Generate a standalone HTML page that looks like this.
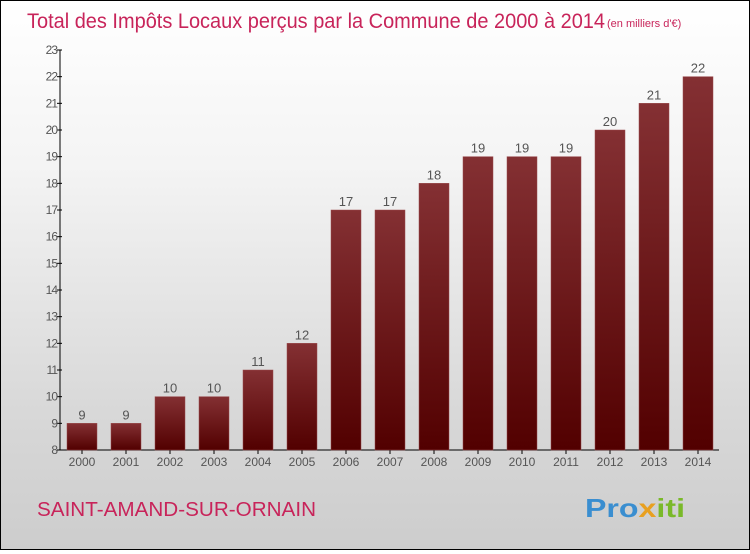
<!DOCTYPE html>
<html><head><meta charset="utf-8"><style>
body{margin:0;width:750px;height:550px;overflow:hidden}
#wrap{position:relative;width:748px;height:548px;border:1px solid #000;background:linear-gradient(#fff 0%,#f4f4f4 30%,#d8d8d8 75%,#cdcdcd 100%);font-family:"Liberation Sans",sans-serif}
</style></head><body>
<div id="wrap">
<svg id="chart" width="748" height="548">
<defs><linearGradient id="bg" x1="0" y1="0" x2="0" y2="1"><stop offset="0" stop-color="#843033"/><stop offset="1" stop-color="#520000"/></linearGradient></defs>
<text x="26" y="27" font-size="21" fill="#c8245a" textLength="578" lengthAdjust="spacingAndGlyphs">Total des Impôts Locaux perçus par la Commune de 2000 à 2014</text>
<text x="606" y="26" font-size="11" fill="#c8245a">(en milliers d'€)</text>
<text x="36" y="515" font-size="20" fill="#c8245a" textLength="279" lengthAdjust="spacingAndGlyphs">SAINT-AMAND-SUR-ORNAIN</text>
<text x="584" y="516" font-size="26" font-weight="bold" textLength="100" lengthAdjust="spacingAndGlyphs"><tspan fill="#3a8ed0">Pro</tspan><tspan fill="#e8a020">x</tspan><tspan fill="#7ab929">iti</tspan></text>
<g id="axes"></g><g id="bars"></g>
</svg></div>
<script>
const categories=["2000","2001","2002","2003","2004","2005","2006","2007","2008","2009","2010","2011","2012","2013","2014"];
const values=[9,9,10,10,11,12,17,17,18,19,19,19,20,21,22];
const yTicks=[8,9,10,11,12,13,14,15,16,17,18,19,20,21,22,23];
const NS="http://www.w3.org/2000/svg";
const x0=59,y0=449,yMin=8,yMax=23,yTop=49,step=44,bw=30;
function y(v){return y0-(v-yMin)/(yMax-yMin)*(y0-yTop);}
function xc(i){return x0+22+i*step;}
function mk(t,a,p){const e=document.createElementNS(NS,t);for(const k in a)e.setAttribute(k,a[k]);p.appendChild(e);return e;}
const ax=document.getElementById('axes'),bs=document.getElementById('bars');
const yl=mk('line',{x1:x0,y1:yTop,x2:x0,y2:y0,stroke:'#000'},ax);


const xl=mk('line',{x1:x0,y1:y0,x2:x0+step*categories.length-1,y2:y0,stroke:'#000'},ax);


yTicks.forEach(v=>{
 mk('line',{x1:x0-3,x2:x0+2,y1:y(v),y2:y(v),stroke:'#000'},ax);
 const t=mk('text',{x:x0-3,y:y(v)+4,'font-size':12,fill:'#555','text-anchor':'end','letter-spacing':'-1'},ax);
 t.textContent=v;
 
 
});
categories.forEach((c,i)=>{
 mk('line',{x1:xc(i),x2:xc(i),y1:y0,y2:y0+4,stroke:'#000'},ax);
 const t=mk('text',{x:xc(i),y:y0+16,'font-size':12,fill:'#555','text-anchor':'middle'},ax);
 t.textContent=c;
 
 
 const r=mk('rect',{x:xc(i)-bw/2,y:y(values[i]),width:bw,height:y0-y(values[i]),fill:'url(#bg)',stroke:'#9a4a4c','stroke-width':0.5},bs);
 
 
 const l=mk('text',{x:xc(i),y:y(values[i])-4,'font-size':13,fill:'#555','text-anchor':'middle'},bs);
 l.textContent=values[i];
 
 
});
</script>
</body></html>
